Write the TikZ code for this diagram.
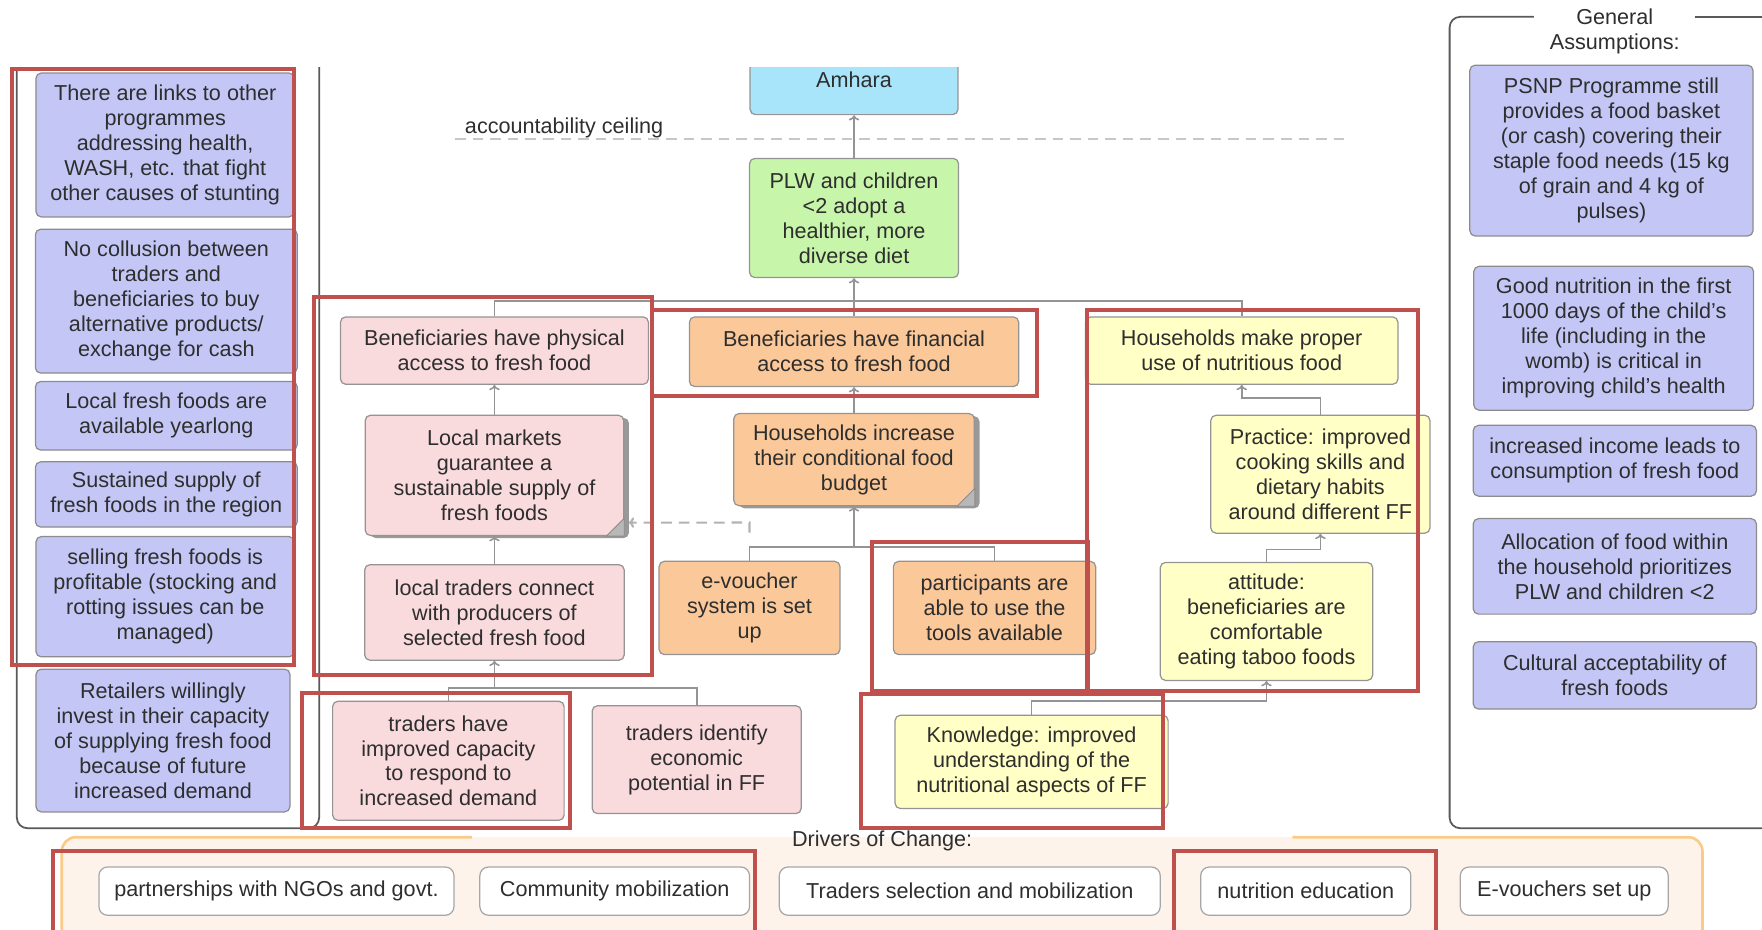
\documentclass[tikz,border=0pt]{standalone}
\usepackage{fontspec}
\setmainfont{Liberation Sans}
\usetikzlibrary{arrows.meta,calc,shadows}

\definecolor{asmblue}{RGB}{196,199,245}
\definecolor{accpink}{RGB}{249,218,221}
\definecolor{accorange}{RGB}{251,200,154}
\definecolor{useyellow}{RGB}{255,255,198}
\definecolor{dietgreen}{RGB}{199,245,170}
\definecolor{topblue}{RGB}{168,228,250}
\definecolor{markred}{RGB}{192,80,77}
\definecolor{driverbg}{RGB}{254,243,234}
\definecolor{driverline}{RGB}{250,202,135}

\begin{document}
\begin{tikzpicture}[
		x=0.022474cm, y=-0.022474cm,
		box/.style={draw=black!42, rounded corners=3pt, line width=0.7pt, align=center, inner sep=1pt, text=black!82, font=\fontsize{12.3}{14.2}\selectfont},
		sz/.style 2 args={minimum width=#1*0.022474cm, minimum height=#2*0.022474cm},
		assumption/.style={box, fill=asmblue, draw=black!45},
		access/.style={box, fill=accpink},
		budget/.style={box, fill=accorange},
		usage/.style={box, fill=useyellow},
		outcome/.style={box, fill=dietgreen},
		impact/.style={box, fill=topblue},
		driver/.style={box, fill=white, draw=black!35, rounded corners=5pt},
		folded/.style={drop shadow={shadow xshift=3pt, shadow yshift=-1.5pt, fill=black!40, opacity=1}},
		plaintext/.style={align=center, inner sep=1pt, text=black!82, font=\fontsize{12.3}{14.2}\selectfont},
		link/.style={draw=black!42, line width=0.9pt},
		arr/.style={link, -{To[length=3pt, width=6pt]}},
		dlink/.style={draw=black!30, line width=1.2pt, dash pattern=on 6pt off 4pt, -{To[length=3pt, width=6pt]}},
		ceiling/.style={draw=black!22, line width=1pt, dash pattern=on 6pt off 4pt},
		redmark/.style={draw=markred, line width=2.3pt},
		panel/.style={draw=black!65, line width=1pt, rounded corners=6pt}
		]
		\useasboundingbox (0,0) rectangle (1568,827);
		
		% ---------------------------------------------------------
		% Drivers of change (bottom band)
		% ---------------------------------------------------------
		\fill[driverbg, rounded corners=8pt] (55,745) rectangle (1515,845);
		\draw[driverline, line width=1.5pt, rounded corners=8pt] (420,745) -- (55,745) -- (55,845);
		\draw[driverline, line width=1.5pt, rounded corners=8pt] (1150,745) -- (1515,745) -- (1515,845);
		\node[plaintext] (dochead) at (785,748) {Drivers of Change:};
		\foreach \n/\x/\w/\t in {1/246/316/partnerships with NGOs and govt., 2/547/240/Community mobilization, 3/863/339/Traders selection and mobilization, 4/1162/187/nutrition education, 5/1392/185/E-vouchers set up} {
			\node[driver, sz={\w}{43}] (drv\n) at (\x,793) {\t};
		}
		
		% ---------------------------------------------------------
		% Left: assumptions of the chain
		% ---------------------------------------------------------
		\begin{scope}
			\clip (0,60) rectangle (1280,900);
			\draw[panel] (15,30) -- (15,737) -- (284,737) -- (284,30);
			\node[impact, sz={185}{62}] (amh) at (760,71) {Amhara};
		\end{scope}
		\node[assumption, sz={230}{128}] (asm1) at (147,129) {There are links to other\\programmes\\addressing health,\\WASH, etc. that fight\\other causes of stunting};
		\node[assumption, sz={233}{128}] (asm2) at (148,268) {No collusion between\\traders and\\beneficiaries to buy\\alternative products/\\exchange for cash};
		\node[assumption, sz={233}{61}] (asm3) at (148,370) {Local fresh foods are\\available yearlong};
		\node[assumption, sz={233}{58}] (asm4) at (148,440) {Sustained supply of\\fresh foods in the region};
		\node[assumption, sz={230}{107}] (asm5) at (147,531) {selling fresh foods is\\profitable (stocking and\\rotting issues can be\\managed)};
		\node[assumption, sz={226}{127}] (asm6) at (145,659) {Retailers willingly\\invest in their capacity\\of supplying fresh food\\because of future\\increased demand};
		
		% ---------------------------------------------------------
		% Centre: the results chain
		% ---------------------------------------------------------
		\node[plaintext] (ceil) at (502,114) {accountability ceiling};
		\draw[ceiling] (405,124) -- (1200,124);
		\node[outcome, sz={186}{106}] (plw) at (760,194) {PLW and children\\<2 adopt a\\healthier, more\\diverse diet};
		
		\node[access, sz={274}{60}] (phys) at (440,312) {Beneficiaries have physical\\access to fresh food};
		\node[budget, sz={293}{62}] (fin) at (760,313) {Beneficiaries have financial\\access to fresh food};
		\node[usage, sz={278}{60}] (use) at (1105,312) {Households make proper\\use of nutritious food};
		
		\node[access, folded, sz={230}{107}] (mkt) at (440,423) {Local markets\\guarantee a\\sustainable supply of\\fresh foods};
		\node[access, sz={231}{85}] (trc) at (440,545) {local traders connect\\with producers of\\selected fresh food};
		\node[access, sz={206}{106}] (cap) at (399,677) {traders have\\improved capacity\\to respond to\\increased demand};
		\node[access, sz={186}{96}] (pot) at (620,676) {traders identify\\economic\\potential in FF};
		
		\node[budget, folded, sz={214}{82}] (hhb) at (760,409) {Households increase\\their conditional food\\budget};
		\node[budget, sz={161}{83}] (evs) at (667,541) {e-voucher\\system is set\\up};
		\node[budget, sz={180}{83}] (tools) at (885,541) {participants are\\able to use the\\tools available};
		
		\node[usage, sz={195}{105}] (prac) at (1175,422) {Practice: improved\\cooking skills and\\dietary habits\\around different FF};
		\node[usage, sz={189}{105}] (att) at (1127,553) {attitude:\\beneficiaries are\\comfortable\\eating taboo foods};
		\node[usage, sz={243}{83}] (know) at (918,678) {Knowledge: improved\\understanding of the\\nutritional aspects of FF};
		
		% folded corners
		\foreach \b in {mkt,hhb} {
			\fill[black!28, draw=black!45, line width=0.5pt] ($(\b.south east)+(-16,0)$) -- ($(\b.south east)+(0,-16)$) -- ($(\b.south east)+(0,0)$) -- cycle;
		}
		
		% connectors
		\coordinate (jdiet) at (760,268);
		\draw[link] (phys.north) |- (jdiet) -| (use.north);
		\draw[link] (fin.north) -- (jdiet);
		\draw[arr] (jdiet) -- (plw.south);
		\draw[arr] (plw.north) -- (amh.south);
		\draw[arr] (mkt.north) -- (phys.south);
		\draw[arr] (trc.north) -- (mkt.south);
		\coordinate (jtrade) at (440,612);
		\draw[link] (cap.north) |- (jtrade) -| (pot.north);
		\draw[arr] (jtrade) -- (trc.south);
		\draw[arr] (hhb.north) -- (fin.south);
		\coordinate (jbudget) at (760,487);
		\draw[link] (evs.north) |- (jbudget) -| (tools.north);
		\draw[arr] (jbudget) -- (hhb.south);
		\draw[arr] (prac.north) -- ++(0,-15) -| (use.south);
		\draw[arr] (att.north) -- ++(0,-11) -| (prac.south);
		\draw[arr] (know.north) -- ++(0,-12) -| (att.south);
		\coordinate (dsrc) at (667,474);
		\draw[dlink] (dsrc) -- ++(0,-9) -- ($(mkt.south east)+(4,-12)$);
		
		% ---------------------------------------------------------
		% Right: general assumptions
		% ---------------------------------------------------------
		\draw[panel] (1365,15) -- (1290,15) -- (1290,737) -- (1590,737);
		\draw[panel] (1508,15) -- (1590,15);
		\node[plaintext] (gahead) at (1437,28) {General\\Assumptions:};
		\node[assumption, sz={252}{152}] (gen1) at (1434,134) {PSNP Programme still\\provides a food basket\\(or cash) covering their\\staple food needs (15 kg\\of grain and 4 kg of\\pulses)};
		\node[assumption, sz={249}{128}] (gen2) at (1436,301) {Good nutrition in the first\\1000 days of the child's\\life (including in the\\womb) is critical in\\improving child's health};
		\node[assumption, sz={252}{63}] (gen3) at (1437,410) {increased income leads to\\consumption of fresh food};
		\node[assumption, sz={252}{85}] (gen4) at (1437,504) {Allocation of food within\\the household prioritizes\\PLW and children <2};
		\node[assumption, sz={252}{60}] (gen5) at (1437,601) {Cultural acceptability of\\fresh foods};
		
		% ---------------------------------------------------------
		% Red highlight frames
		% ---------------------------------------------------------
		\foreach \xa/\ya/\xb/\yb in {11/61/262/592, 279/264/580/601, 580/276/923/352, 967/276/1262/615, 776/482/968/615, 269/617/507/737, 766/618/1035/737, 47/757/672/840, 1045/757/1278/840} {
			\draw[redmark] (\xa,\ya) rectangle (\xb,\yb);
		}
		
	\end{tikzpicture}
\end{document}
